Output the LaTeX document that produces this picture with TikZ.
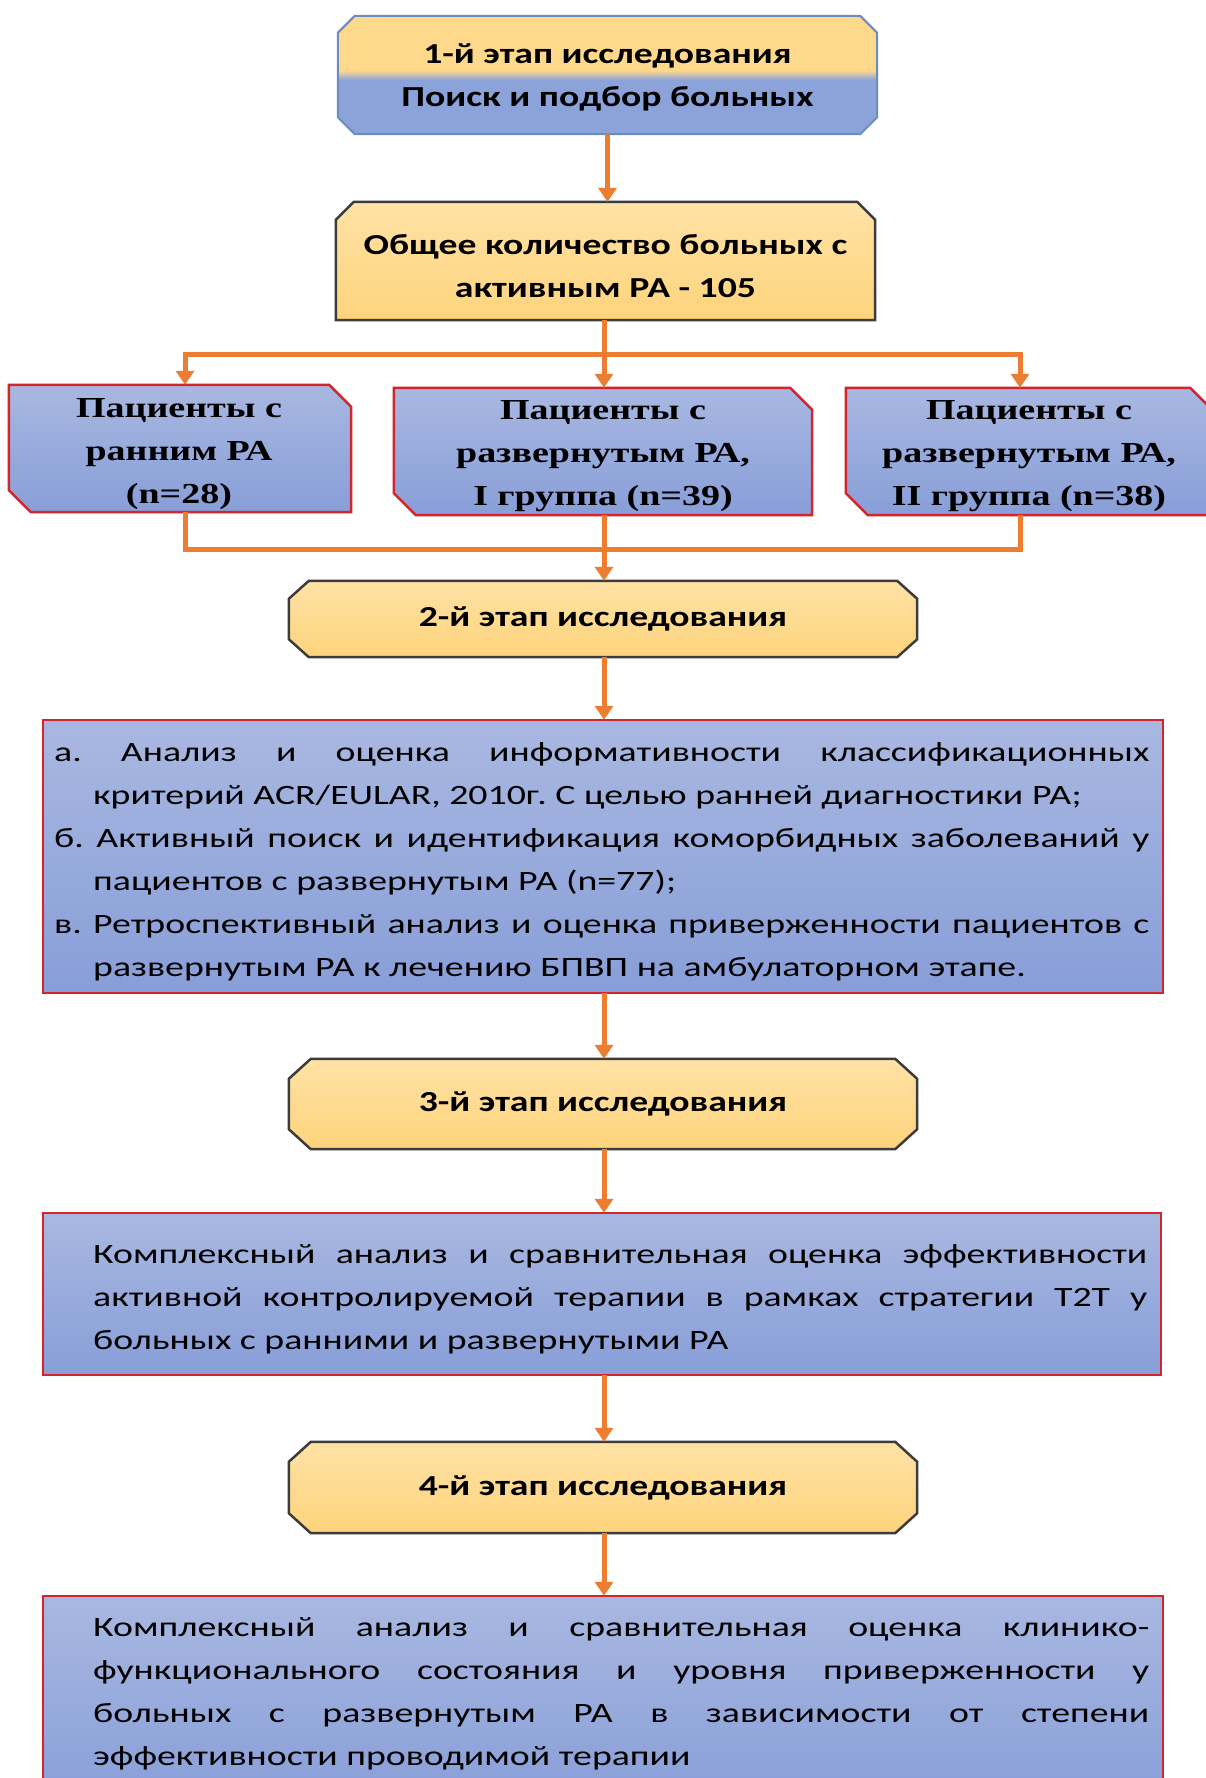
\documentclass[tikz,border=0pt]{standalone}
\usepackage{fontspec}
\setmainfont{Carlito}
\newfontfamily\calr[FakeStretch=1.3]{Carlito}
\newfontfamily\calbody[FakeStretch=1.35]{Carlito}
\newfontfamily\tnr[FakeStretch=1.31]{Liberation Serif}
\usetikzlibrary{arrows.meta,backgrounds,calc}
\definecolor{orng}{HTML}{ED7D31}
\definecolor{ylt}{HTML}{FFE2A6}
\definecolor{ydk}{HTML}{FED47C}
\definecolor{blt}{HTML}{A9B8E1}
\definecolor{bdk}{HTML}{889ED8}
\definecolor{redb}{HTML}{D3252B}
\definecolor{byel}{HTML}{FFD98B}
\definecolor{bblue}{HTML}{8CA3DA}
\definecolor{bedge}{HTML}{6A8DC0}
\definecolor{sedge}{HTML}{3C3C3C}
\pgfdeclareverticalshading{yelblue}{100bp}{color(0bp)=(bblue); color(48bp)=(bblue); color(52bp)=(byel); color(100bp)=(byel)}
\newcommand\octo[4]{\path[#2] ([xshift=#3]#1.north west) -- ([xshift=-#3]#1.north east) -- ([yshift=-#4]#1.north east) -- ([yshift=#4]#1.south east) -- ([xshift=-#3]#1.south east) -- ([xshift=#3]#1.south west) -- ([yshift=#4]#1.south west) -- ([yshift=-#4]#1.north west) -- cycle;}
\newcommand\topcut[4]{\path[#2] ([xshift=#3]#1.north west) -- ([xshift=-#3]#1.north east) -- ([yshift=-#4]#1.north east) -- (#1.south east) -- (#1.south west) -- ([yshift=-#4]#1.north west) -- cycle;}
\newcommand\diagcut[4]{\path[#2] (#1.north west) -- ([xshift=-#3]#1.north east) -- ([yshift=-#4]#1.north east) -- (#1.south east) -- ([xshift=#3]#1.south west) -- ([yshift=#4]#1.south west) -- cycle;}
\begin{document}
\begin{tikzpicture}[x=1pt,y=-1pt,
  geo/.style={inner sep=0pt, align=center},
  stagetxt/.style={font={\calr\bfseries\fontsize{29pt}{43pt}\selectfont}},
  pattxt/.style={font={\tnr\bfseries\fontsize{29pt}{43pt}\selectfont}},
  body/.style={inner sep=0pt, align=justify, font={\calbody\fontsize{28pt}{43pt}\selectfont\hyphenpenalty=10000\frenchspacing}},
  stagefill/.style={top color=ylt, bottom color=ydk, draw=sedge, line width=2.5pt, line join=miter},
  bluefill/.style={top color=blt, bottom color=bdk, draw=redb, line width=2.5pt},
  conn/.style={draw=orng, line width=5pt, line join=miter},
  arr/.style={conn, -{Triangle[width=18pt,length=14pt]}}]
\useasboundingbox (0,0) rectangle (1205,1778);
\clip (0,0) rectangle (1205,1778);

% box geometry
\node[geo, minimum width=539pt, minimum height=118pt] (b1) at (607.5,75) {};
\node[geo, minimum width=539pt, minimum height=118pt] (b2) at (605.5,261) {};
\node[geo, minimum width=342pt, minimum height=127pt] (p1) at (180,448.5) {};
\node[geo, minimum width=418pt, minimum height=127pt] (p2) at (603,451.5) {};
\node[geo, minimum width=366pt, minimum height=127pt] (p3) at (1029,451.5) {};
\node[geo, stagetxt, minimum width=628pt, minimum height=76pt] (s2) at (603,619) {2-й этап исследования};
\node[geo, minimum width=1120pt, minimum height=273pt] (A) at (603,856.5) {};
\node[geo, stagetxt, minimum width=628pt, minimum height=90pt] (s3) at (603,1104) {3-й этап исследования};
\node[geo, minimum width=1118pt, minimum height=162pt] (B) at (602,1294) {};
\node[geo, stagetxt, minimum width=628pt, minimum height=91pt] (s4) at (603,1487.5) {4-й этап исследования};
\node[geo, minimum width=1120pt, minimum height=208pt] (C) at (603,1700) {};

% texts
\node[geo, stagetxt] (t1) at (607.5,77) {1-й этап исследования\\Поиск и подбор больных};
\node[geo, stagetxt] (t2) at (605.5,266) {Общее количество больных с\\активным РА - 105};
\node[geo, pattxt] (tp1) at (179,454.5) {Пациенты с\\ранним РА\\(n=28)};
\node[geo, pattxt] (tp2) at (603,456) {Пациенты с\\развернутым РА,\\I группа (n=39)};
\node[geo, pattxt] (tp3) at (1029,456) {Пациенты с\\развернутым РА,\\II группа (n=38)};
\node[body, text width=1095pt, anchor=north west] (tA) at (54,742) {%
\hangindent=39pt\hangafter=1\noindent а. Анализ и оценка информативности классификационных\linebreak критерий ACR/EULAR, 2010г. С целью ранней диагностики РА;\par
\hangindent=39pt\hangafter=1\noindent б. Активный поиск и идентификация коморбидных заболеваний у\linebreak пациентов с развернутым РА (n=77);\par
\hangindent=39pt\hangafter=1\noindent в. Ретроспективный анализ и оценка приверженности пациентов с\linebreak развернутым РА к лечению БПВП на амбулаторном этапе.\par};
\node[body, text width=1054pt, anchor=north west] (tB) at (93,1244) {%
Комплексный анализ и сравнительная оценка эффективности\linebreak активной контролируемой терапии в рамках стратегии T2T у\linebreak больных с ранними и развернутыми РА};
\node[body, text width=1056pt, anchor=north west] (tC) at (93,1617) {%
Комплексный анализ и сравнительная оценка клинико-\linebreak функционального состояния и уровня приверженности у\linebreak больных с развернутым РА в зависимости от степени\linebreak эффективности проводимой терапии};

% shapes behind
\begin{scope}[on background layer]
  \octo{b1}{shading=yelblue, draw=bedge, line width=2pt}{17pt}{17pt}
  \topcut{b2}{stagefill}{18pt}{18pt}
  \diagcut{p1}{bluefill}{22pt}{22pt}
  \diagcut{p2}{bluefill}{22pt}{22pt}
  \diagcut{p3}{bluefill}{22pt}{22pt}
  \octo{s2}{stagefill}{20pt}{18pt}
  \octo{s3}{stagefill}{22pt}{20pt}
  \octo{s4}{stagefill}{22pt}{20pt}
  \path[bluefill] (A.north west) rectangle (A.south east);
  \path[bluefill] (B.north west) rectangle (B.south east);
  \path[bluefill] (C.north west) rectangle (C.south east);
\end{scope}

% connectors
\coordinate (jt) at (604,354);
\coordinate (jb) at (604,549);
\draw[arr] (b1.south) -- (b1.south |- b2.north);
\draw[conn] (b2.south -| jt) -- (jt);
\draw[arr] (jt) -| ([xshift=5pt]p1.north);
\draw[arr] (jt) -- (jt |- p2.north);
\draw[arr] (jt) -| ([xshift=-9pt]p3.north);
\draw[conn] ([xshift=5pt]p1.south) |- (jb) -| ([xshift=-9pt]p3.south);
\draw[arr] (jb |- p2.south) -- (jb |- s2.north);
\draw[arr] (jb |- s2.south) -- (jb |- A.north);
\draw[arr] (jb |- A.south) -- (jb |- s3.north);
\draw[arr] (jb |- s3.south) -- (jb |- B.north);
\draw[arr] (jb |- B.south) -- (jb |- s4.north);
\draw[arr] (jb |- s4.south) -- (jb |- C.north);
\end{tikzpicture}
\end{document}
